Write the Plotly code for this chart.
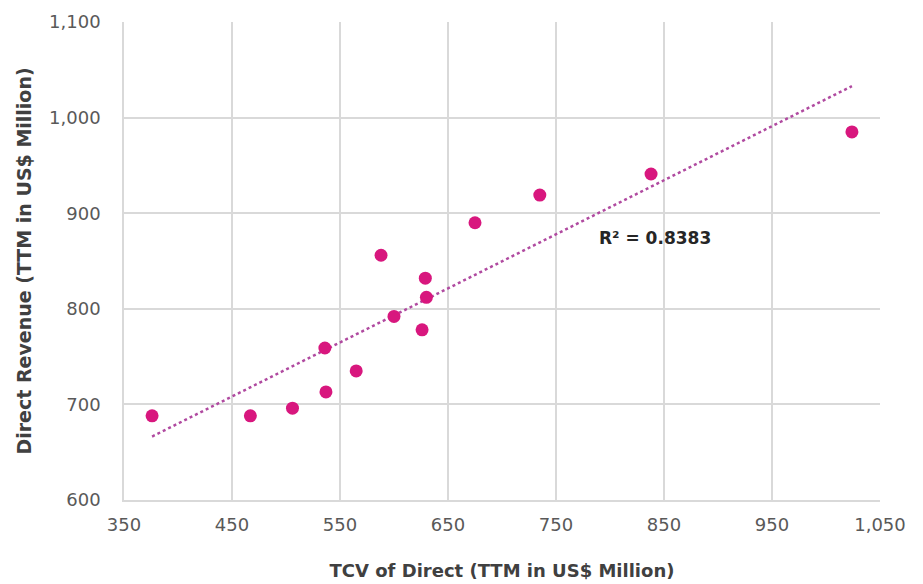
import numpy as np
import plotly.graph_objects as go

tcv = [376, 467, 506, 536, 537, 565, 588, 600, 629, 630, 626, 675, 735, 838, 1024]
revenue = [688, 688, 696, 759, 713, 735, 856, 792, 832, 812, 778, 890, 919, 941, 985]
x_ticks = [350, 450, 550, 650, 750, 850, 950, 1050]
y_ticks = [600, 700, 800, 900, 1000, 1100]
r2_label = "R² = 0.8383"

slope, intercept = np.polyfit(tcv, revenue, 1)
x_fit = [min(tcv), max(tcv)]
y_fit = [slope * v + intercept for v in x_fit]

FONT = "DejaVu Sans, sans-serif"

fig = go.Figure()
fig.add_trace(go.Scatter(
    x=x_fit, y=y_fit, mode="lines",
    line=dict(color="#b04aa0", width=2.5, dash="dot"),
    hoverinfo="skip", showlegend=False))
fig.add_trace(go.Scatter(
    x=tcv, y=revenue, mode="markers",
    marker=dict(color="#d8177e", size=13),
    showlegend=False))

fig.add_annotation(x=842, y=874, text="<b>" + r2_label + "</b>", showarrow=False,
                   font=dict(family=FONT, size=17, color="#262626"))

fig.update_layout(
    width=923, height=584,
    margin=dict(l=116, r=51, t=14, b=92),
    paper_bgcolor="white", plot_bgcolor="white",
    font=dict(family=FONT, size=18, color="#595959"),
    xaxis=dict(range=[350, 1050], tickvals=x_ticks,
               ticktext=[f"{v:,}" for v in x_ticks],
               tickfont=dict(size=18, color="#595959"),
               showgrid=True, gridcolor="#d9d9d9", gridwidth=1.5,
               zeroline=False, showline=True, linecolor="#d9d9d9", linewidth=1.5,
               ticks="", ticklen=0, ticklabelstandoff=8, automargin=False,
               title=dict(text="<b>TCV of Direct (TTM in US$ Million)</b>",
                          font=dict(size=18, color="#404040"), standoff=30)),
    yaxis=dict(range=[600, 1100], tickvals=y_ticks,
               ticktext=[f"{v:,}" for v in y_ticks],
               tickfont=dict(size=18, color="#595959"),
               showgrid=True, gridcolor="#d9d9d9", gridwidth=1.5,
               zeroline=False, showline=True, linecolor="#d9d9d9", linewidth=1.5,
               ticks="", ticklen=0, ticklabelstandoff=18, automargin=False,
               title=dict(text="<b>Direct Revenue (TTM in US$ Million)</b>",
                          font=dict(size=19, color="#404040"), standoff=12)),
)

fig.write_html("out.html")
